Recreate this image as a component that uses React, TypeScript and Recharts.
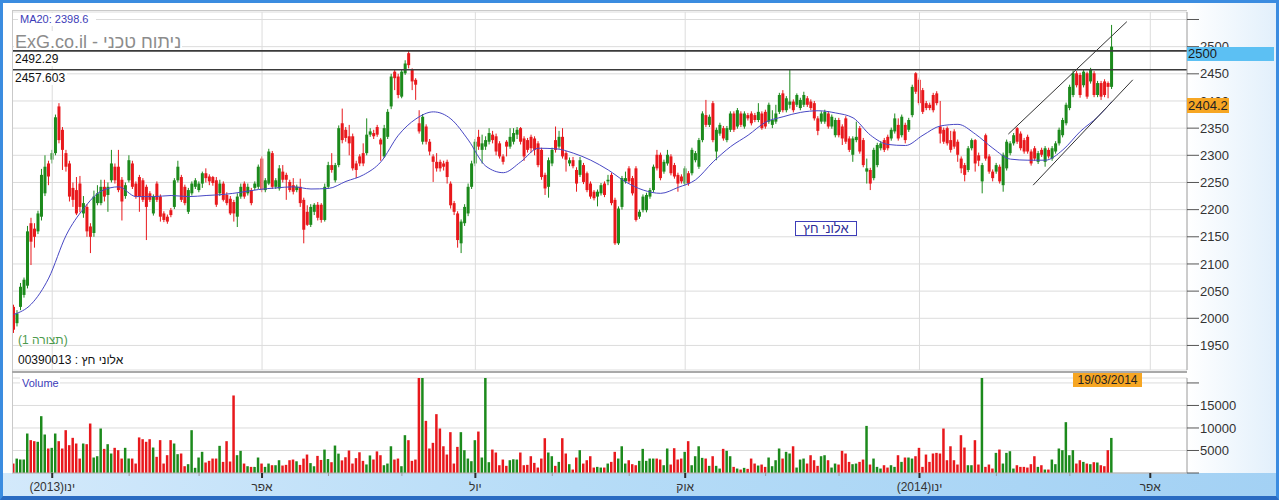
import React from 'react';
import { ComposedChart, Bar, Line, XAxis, YAxis, CartesianGrid, ReferenceLine, Cell } from 'recharts';

// ---------- data ----------
const opens = [
  2021,1991,2021,2043,2060,2175,2165,2160,2187,2230,
  2285,2292,2304,2390,2347,2304,2285,2240,2236,2248,
  2193,2205,2169,2157,2212,2212,2242,2227,2254,2279,
  2279,2255,2225,2254,2285,2248,2260,2254,2242,2230,
  2193,2248,2224,2193,2187,2199,2205,2254,2260,2242,
  2196,2230,2242,2236,2248,2267,2261,2260,2254,2230,
  2248,2227,2220,2214,2187,2224,2248,2230,2236,2240,
  2242,2294,2236,2248,2304,2242,2239,2270,2264,2251,
  2245,2236,2242,2218,2196,2172,2196,2209,2209,2181,
  2242,2282,2254,2282,2359,2347,2335,2335,2285,2298,
  2304,2304,2338,2341,2352,2329,2298,2334,2390,2454,
  2445,2408,2451,2488,2457,2439,2359,2325,2353,2325,
  2298,2288,2288,2285,2288,2248,2212,2193,2138,2175,
  2193,2242,2285,2334,2310,2316,2325,2338,2335,2322,
  2298,2325,2316,2325,2338,2350,2331,2328,2334,2331,
  2322,2310,2264,2242,2285,2328,2316,2334,2304,2285,
  2291,2273,2264,2282,2267,2248,2233,2224,2230,2248,
  2252,2264,2218,2138,2205,2252,2276,2258,2276,2187,
  2199,2199,2224,2236,2301,2301,2270,2285,2298,2282,
  2264,2261,2248,2267,2267,2291,2279,2328,2374,2356,
  2396,2307,2340,2350,2328,2347,2377,2353,2377,2353,
  2374,2377,2374,2365,2377,2380,2362,2356,2362,2380,
  2414,2383,2393,2399,2393,2387,2393,2405,2399,2396,
  2368,2362,2362,2377,2353,2337,2365,2353,2368,2331,
  2301,2328,2350,2328,2270,2273,2258,2282,2313,2328,
  2334,2331,2344,2356,2337,2356,2347,2374,2451,2439,
  2420,2396,2393,2411,2414,2353,2347,2350,2328,2344,
  2325,2294,2282,2273,2313,2328,2300,2252,2337,2298,
  2270,2270,2279,2245,2276,2304,2322,2350,2340,2328,
  2334,2307,2313,2288,2310,2288,2310,2294,2307,2322,
  2337,2359,2387,2411,2451,2448,2429,2451,2436,2451,
  2411,2433,2436,2433,2426,
];
const highs = [
  2025,2015,2065,2075,2170,2185,2175,2198,2275,2300,
  2290,2310,2375,2396,2352,2310,2290,2250,2260,2262,
  2225,2210,2175,2235,2245,2255,2255,2250,2310,2285,
  2310,2260,2250,2300,2290,2252,2264,2258,2246,2234,
  2228,2252,2228,2197,2191,2203,2258,2290,2264,2246,
  2240,2252,2258,2252,2270,2276,2265,2262,2260,2255,
  2252,2232,2225,2218,2230,2248,2252,2248,2240,2252,
  2283,2298,2258,2312,2308,2258,2282,2282,2268,2255,
  2258,2246,2257,2222,2208,2210,2212,2214,2212,2248,
  2288,2304,2286,2355,2386,2352,2356,2340,2290,2302,
  2322,2368,2350,2347,2356,2332,2356,2385,2450,2458,
  2450,2458,2475,2492.3,2460,2442,2383,2376,2357,2330,
  2302,2304,2292,2290,2292,2252,2216,2197,2182,2210,
  2248,2290,2330,2347,2338,2335,2350,2345,2340,2326,
  2302,2328,2350,2350,2352,2352,2335,2332,2338,2335,
  2326,2314,2268,2296,2314,2353,2345,2350,2308,2296,
  2297,2278,2297,2286,2270,2252,2236,2237,2249,2252,
  2264,2268,2222,2206,2262,2270,2280,2262,2280,2200,
  2228,2231,2240,2283,2310,2305,2292,2310,2302,2286,
  2268,2265,2280,2271,2314,2308,2332,2381,2402,2375,
  2400,2351,2360,2354,2354,2381,2381,2387,2381,2381,
  2378,2381,2378,2396,2381,2384,2397,2383,2393,2415,
  2420,2409,2457.6,2403,2414,2406,2417,2409,2403,2400,
  2372,2381,2384,2381,2375,2369,2369,2357,2372,2335,
  2335,2362,2354,2332,2294,2277,2314,2323,2326,2332,
  2338,2351,2377,2368,2375,2360,2369,2430,2453,2443,
  2424,2400,2397,2415,2418,2400,2351,2353,2345,2348,
  2329,2298,2286,2317,2331,2330,2305,2286,2340,2302,
  2274,2286,2283,2305,2329,2326,2341,2352,2344,2332,
  2338,2311,2317,2308,2314,2317,2314,2317,2326,2351,
  2369,2397,2430,2456,2455,2452,2458,2454,2461,2455,
  2437,2437,2440,2436,2540,
];
const lows = [
  1973,1985,2015,2038,2055,2098,2130,2155,2180,2225,
  2245,2285,2300,2322,2273,2270,2215,2205,2190,2195,
  2185,2150,2120,2150,2208,2208,2215,2196,2250,2248,
  2232,2180,2220,2250,2238,2220,2196,2214,2144,2214,
  2189,2214,2178,2177,2174,2186,2201,2250,2214,2208,
  2192,2226,2238,2232,2240,2250,2245,2244,2205,2225,
  2215,2208,2190,2178,2168,2220,2220,2226,2208,2236,
  2238,2232,2232,2245,2238,2238,2235,2250,2218,2232,
  2228,2232,2205,2138,2170,2168,2190,2180,2176,2178,
  2238,2268,2250,2278,2322,2325,2300,2272,2258,2280,
  2280,2300,2334,2330,2334,2290,2295,2330,2385,2420,
  2405,2405,2448,2460,2420,2402,2340,2320,2320,2300,
  2251,2270,2270,2272,2248,2202,2190,2130,2120,2170,
  2188,2238,2280,2310,2285,2310,2320,2322,2300,2294,
  2283,2298,2312,2320,2330,2320,2290,2305,2305,2300,
  2278,2255,2227,2222,2280,2305,2312,2294,2270,2280,
  2276,2233,2260,2247,2232,2220,2217,2206,2226,2223,
  2245,2208,2135,2135,2200,2248,2248,2226,2178,2183,
  2195,2195,2220,2232,2272,2254,2266,2281,2263,2257,
  2233,2248,2244,2244,2263,2287,2275,2324,2352,2352,
  2324,2291,2336,2327,2324,2343,2343,2349,2352,2349,
  2364,2355,2361,2361,2347,2349,2358,2350,2358,2376,
  2379,2379,2386,2379,2389,2383,2389,2389,2383,2364,
  2337,2358,2358,2349,2349,2333,2333,2319,2321,2306,
  2288,2324,2303,2278,2248,2236,2254,2278,2309,2306,
  2309,2327,2340,2327,2333,2322,2343,2370,2413,2392,
  2376,2383,2383,2379,2392,2322,2321,2318,2305,2312,
  2288,2267,2252,2269,2309,2270,2280,2230,2290,2266,
  2252,2266,2248,2233,2272,2300,2318,2321,2309,2303,
  2303,2281,2290,2284,2297,2279,2294,2290,2303,2318,
  2333,2355,2383,2407,2425,2406,2425,2404,2432,2407,
  2407,2402,2407,2405,2422,
];
const closes = [
  1979,2009,2058,2071,2160,2141,2150,2193,2264,2279,
  2261,2304,2370,2328,2310,2279,2224,2218,2193,2205,
  2212,2160,2150,2224,2230,2242,2224,2242,2285,2254,
  2236,2215,2245,2291,2242,2224,2224,2218,2205,2218,
  2224,2218,2187,2181,2178,2190,2254,2279,2218,2212,
  2236,2248,2254,2248,2267,2258,2252,2249,2209,2248,
  2218,2212,2193,2193,2224,2242,2224,2242,2212,2248,
  2279,2236,2254,2307,2242,2254,2276,2255,2255,2236,
  2233,2242,2212,2163,2172,2205,2209,2185,2181,2242,
  2282,2273,2282,2350,2328,2332,2322,2276,2273,2285,
  2285,2338,2344,2335,2338,2320,2350,2380,2445,2442,
  2411,2454,2469,2466,2436,2430,2344,2371,2325,2307,
  2288,2276,2276,2279,2260,2208,2196,2144,2178,2205,
  2242,2285,2325,2316,2322,2328,2341,2328,2307,2298,
  2288,2316,2334,2341,2347,2325,2298,2310,2313,2310,
  2282,2260,2239,2291,2310,2310,2334,2298,2292,2291,
  2280,2248,2291,2251,2236,2224,2221,2233,2245,2227,
  2255,2212,2138,2202,2258,2258,2252,2230,2181,2196,
  2224,2227,2236,2279,2276,2258,2288,2301,2267,2261,
  2248,2252,2276,2248,2310,2304,2328,2377,2356,2371,
  2328,2347,2356,2331,2350,2377,2347,2383,2356,2377,
  2368,2359,2365,2380,2350,2353,2393,2365,2377,2411,
  2383,2405,2399,2383,2411,2402,2411,2393,2387,2368,
  2345,2377,2380,2353,2371,2365,2337,2331,2325,2310,
  2331,2334,2307,2282,2276,2248,2310,2319,2322,2310,
  2313,2347,2368,2331,2371,2328,2365,2426,2417,2396,
  2380,2387,2387,2383,2396,2340,2325,2322,2310,2316,
  2301,2276,2264,2313,2328,2285,2290,2282,2294,2270,
  2258,2282,2252,2301,2325,2322,2337,2325,2313,2307,
  2307,2285,2294,2304,2301,2313,2298,2313,2322,2347,
  2365,2393,2426,2451,2429,2411,2454,2408,2457,2411,
  2433,2408,2411,2426,2500,
];
const volumes = [
  2100,3200,3000,3000,8770,7300,7070,6930,12620,8550,
  5440,5590,8770,7070,5440,9510,6180,7810,6550,3210,
  6550,6400,10990,3440,3730,9880,5360,6400,4330,5590,
  5070,3210,5590,3210,3210,2100,7900,7510,6930,7510,
  5660,3590,7300,2100,3960,7300,6550,4180,4330,1510,
  1960,9510,1150,3440,4700,2330,2700,3210,3210,6030,
  2470,7070,2550,17220,3960,4920,2100,1510,1360,1360,
  3440,2100,1360,2100,1730,1730,2840,1660,1810,2840,
  2990,2600,1800,3200,4100,2200,1500,3800,2900,5200,
  3100,2400,6100,4300,2800,3500,5000,2100,3300,4600,
  2700,1900,3900,3000,4800,3950,1730,2100,5940,2990,
  3210,1510,8400,7290,2700,2990,26000,25000,11580,5440,
  6700,13070,9880,5940,4100,9070,2100,5800,9070,5070,
  3210,2620,7290,9210,3440,25000,2400,5210,4550,1730,
  2990,1590,2840,3050,2990,4550,1730,1810,3730,2250,
  1210,3210,7730,4550,3730,1590,2470,7730,4330,1960,
  770,3440,5070,2100,2840,3730,1210,1360,1210,1210,
  2100,2470,4700,3210,5940,2100,2840,1960,1730,2700,
  5360,2700,3210,3210,3210,2990,1730,5440,1880,5510,
  2990,3210,4700,7070,1730,3730,5940,3360,3210,1590,
  3730,1590,990,5360,4920,3730,1360,990,770,1140,
  920,3210,2100,1660,1880,1360,3440,1510,2840,5440,
  3210,4700,4330,5940,1210,2990,3210,2100,3950,2840,
  1590,3730,3950,2840,1210,2100,1880,4920,4330,2470,
  1960,2100,2470,2990,10460,1880,3210,1360,990,1730,
  1210,1730,1360,3950,2470,3440,3440,3210,3730,5590,
  1360,4100,2470,4330,4470,4330,9880,2840,5940,2840,
  1880,8400,5660,1730,1730,7290,1880,24000,1360,1880,
  990,4470,5210,2100,4470,4840,990,1730,1360,1360,
  1210,1960,3730,1360,1730,770,770,2990,1960,5440,
  5070,11290,3950,5070,2100,2840,2470,2100,1960,2400,
  2330,1730,1510,5070,7790,
];
// MA20 at every fifth session
const maIndex = [0,5,10,15,20,25,30,35,40,45,50,55,60,65,70,75,80,85,90,95,100,105,110,115,120,125,130,135,140,145,150,155,160,165,170,175,180,185,190,195,200,205,210,215,220,225,230,235,240,245,250,255,260,265,270,275,280,285,290,295,300,305,310,314];
const maValues = [2007,2026,2074,2153,2202,2234,2242,2224,2224,2226,2224,2226,2228,2232,2237,2240,2242,2238,2239,2252,2264,2288,2337,2367,2380,2367,2328,2280,2268,2288,2313,2312,2304,2291,2273,2251,2236,2230,2241,2255,2288,2316,2337,2361,2371,2379,2382,2378,2369,2337,2320,2318,2337,2354,2357,2339,2313,2293,2291,2291,2310,2344,2371,2398.6];

const monthTicks = [11,33,53,71,90,111,132,154,176,192,215,236,259,281,302,325];
const monthLabels = ['(2013)ינו','','','אפר','','','יול','','','אוק','','','(2014)ינו','','','אפר'];
const quarterTicks = [11,71,132,192,259,325];
const priceTicks = [1950,2000,2050,2100,2150,2200,2250,2300,2350,2400,2450,2500,2550];
const volumeTicks = [0,5000,10000,15000,20000];
const levelHigh = 2492.29;
const levelLow = 2457.603;
const channelUpper = [{ x: 284.4, y: 2339 }, { x: 318.3, y: 2546 }];
const channelLower = [{ x: 291.5, y: 2245 }, { x: 320, y: 2439 }];
const lastPrice = '2500';
const maMarker = '2404.2';
const maLabel = 'MA20: 2398.6';
const lastDate = '19/03/2014';

const X_DOMAIN: [number, number] = [-0.5, 335.5];
const PRICE_DOMAIN: [number, number] = [1904.8, 2563.8];
const VOLUME_DOMAIN: [number, number] = [0, 21100];

const GREEN = '#1c8a1c';
const RED = '#e8181c';
const GRID = '#dcdcdc';
const FONT = "'Liberation Sans', Arial, sans-serif";
const NARROW = "'Liberation Sans Narrow', 'Arial Narrow', 'Liberation Sans', Arial, sans-serif";

const maMap: Record<number, number> = {};
maIndex.forEach((idx, k) => { maMap[idx] = maValues[k]; });

const data = closes.map((c, i) => ({
  i,
  open: opens[i],
  high: highs[i],
  low: lows[i],
  close: c,
  range: [lows[i], highs[i]],
  volume: volumes[i],
  ma: maMap[i] !== undefined ? maMap[i] : null,
}));

const Candle = (props: any) => {
  const { x, y, width, height, payload } = props;
  if (!payload || x == null || y == null) return null;
  const { open, close, high, low } = payload;
  const up = close >= open;
  const color = up ? GREEN : RED;
  const top = Math.min(y, y + height);
  const h = Math.abs(height);
  const span = high - low || 1;
  const yOf = (v: number) => top + ((high - v) / span) * h;
  const cx = x + width / 2;
  const bTop = yOf(Math.max(open, close));
  const bBot = yOf(Math.min(open, close));
  return (
    <g>
      <line x1={cx} x2={cx} y1={top} y2={top + h} stroke={color} strokeWidth={1} />
      <rect x={x} y={bTop} width={width} height={Math.max(bBot - bTop, 1)} fill={color} />
    </g>
  );
};

const MonthTick = (props: any) => {
  const { x, y, payload } = props;
  const k = monthTicks.indexOf(payload.value);
  const label = k >= 0 ? monthLabels[k] : '';
  const major = label !== '';
  return (
    <g>
      <line x1={x} x2={x} y1={y} y2={y + (major ? 5 : 3)} stroke={major ? '#2c2c2c' : '#9a9a9a'} strokeWidth={major ? 2 : 1} />
      {major && (
        <text x={x} y={y + 18} textAnchor="middle" fontSize={12} fill="#333" fontFamily={FONT}>
          {label}
        </text>
      )}
    </g>
  );
};

const abs = (l: number, t: number, w: number, h: number, extra: React.CSSProperties = {}): React.CSSProperties => ({
  position: 'absolute', left: l, top: t, width: w, height: h, ...extra,
});

export default function App() {
  return (
    <div style={{ position: 'absolute', left: 0, top: 0, width: 1279, height: 500, background: '#fff', overflow: 'hidden', fontFamily: FONT }}>
      {/* backgrounds */}
      <div style={abs(1187, 0, 92, 473, { background: 'linear-gradient(to right, #ffffff, #e1effb)' })} />
      <div style={abs(0, 473, 1279, 27, { background: 'linear-gradient(to right, #d3e9fb, #b6dcf7 45%, #a3d1f4)' })} />

      {/* price panel */}
      <div style={{ position: 'absolute', left: 0, top: 0 }}>
        <ComposedChart width={1279} height={372} data={data} margin={{ top: 12, right: 0, bottom: 2, left: 12 }}>
          <CartesianGrid vertical={false} stroke={GRID} />
          <XAxis type="number" dataKey="i" domain={X_DOMAIN} hide allowDataOverflow />
          <YAxis
            type="number"
            orientation="right"
            width={92}
            domain={PRICE_DOMAIN}
            ticks={priceTicks}
            interval={0}
            allowDataOverflow
            tickSize={12}
            tickMargin={1}
            axisLine={{ stroke: '#9a9a9a' }}
            tickLine={{ stroke: '#555' }}
            tick={{ fontSize: 13, fill: '#333', fontFamily: NARROW }}
            tickFormatter={(v: number) => (v === 2550 ? '' : String(v))}
          />
          {quarterTicks.map((q) => (
            <ReferenceLine key={q} x={q} stroke={GRID} />
          ))}
          <ReferenceLine y={levelHigh} stroke="#3a3a3a" strokeWidth={1.6} />
          <ReferenceLine y={levelLow} stroke="#3a3a3a" strokeWidth={1.6} />
          <Bar dataKey="range" barSize={3} shape={(p: any) => <Candle {...p} />} isAnimationActive={false} />
          <Line dataKey="ma" type="monotone" stroke="#4848c4" strokeWidth={1} dot={false} connectNulls isAnimationActive={false} />
          <ReferenceLine segment={channelUpper} stroke="#333" strokeWidth={1} />
          <ReferenceLine segment={channelLower} stroke="#333" strokeWidth={1} />
        </ComposedChart>
      </div>

      {/* volume panel */}
      <div style={{ position: 'absolute', left: 0, top: 372 }}>
        <ComposedChart width={1279} height={128} data={data} margin={{ top: 6, right: 0, bottom: 5, left: 12 }}>
          <CartesianGrid vertical={false} stroke={GRID} />
          <XAxis
            type="number"
            dataKey="i"
            domain={X_DOMAIN}
            allowDataOverflow
            ticks={monthTicks}
            interval={0}
            height={22}
            tickSize={0}
            tickMargin={0}
            tickLine={false}
            axisLine={{ stroke: '#b0b0b0' }}
            tick={(p: any) => <MonthTick {...p} />}
          />
          <YAxis
            type="number"
            orientation="right"
            width={92}
            domain={VOLUME_DOMAIN}
            ticks={volumeTicks}
            interval={0}
            allowDataOverflow
            tickSize={12}
            tickMargin={1}
            axisLine={{ stroke: '#9a9a9a' }}
            tickLine={{ stroke: '#555' }}
            tick={{ fontSize: 13, fill: '#333', fontFamily: NARROW }}
            tickFormatter={(v: number) => (v === 0 || v === 20000 ? '' : String(v))}
          />
          <Bar dataKey="volume" barSize={2.5} isAnimationActive={false}>
            {data.map((d) => (
              <Cell key={d.i} fill={d.close >= d.open ? GREEN : RED} />
            ))}
          </Bar>
        </ComposedChart>
      </div>

      {/* panel borders */}
      <div style={abs(12, 10, 1175, 1, { background: '#c9c9c9' })} />
      <div style={abs(12, 10, 1, 463, { background: '#c9c9c9' })} />
      <div style={abs(12, 371, 1175, 2, { background: '#a9a9a9' })} />

      {/* labels in the price panel */}
      <div style={abs(18, 13, 78, 13, { background: '#fff', fontSize: 11, lineHeight: '13px', color: '#3c3cb8', paddingLeft: 2, boxSizing: 'border-box' })}>{maLabel}</div>
      <div style={abs(14, 31, 168, 18, { background: '#fff' })} />
      <div style={abs(15, 33, 200, 18, { fontSize: 18, lineHeight: '18px', color: '#8c8c8c', whiteSpace: 'nowrap' })}>ExG.co.il - ניתוח טכני</div>
      <div style={abs(13, 52, 50, 14, { background: '#fff', fontSize: 12, lineHeight: '14px', color: '#111', paddingLeft: 2, boxSizing: 'border-box' })}>2492.29</div>
      <div style={abs(13, 71, 54, 14, { background: '#fff', fontSize: 12, lineHeight: '14px', color: '#111', paddingLeft: 2, boxSizing: 'border-box' })}>2457.603</div>
      <div style={abs(18, 333, 120, 14, { fontSize: 12, lineHeight: '14px', color: '#4c9a4c', whiteSpace: 'nowrap' })}>(תצורה 1)</div>
      <div style={abs(18, 353, 160, 14, { fontSize: 12, lineHeight: '14px', color: '#111', whiteSpace: 'nowrap' })}>00390013 : אלוני חץ</div>
      <div style={abs(795, 221, 62, 15, { background: '#fff', border: '1px solid #3d3db8', boxSizing: 'border-box', fontSize: 13, lineHeight: '13px', color: '#2c2c96', textAlign: 'center' })}>אלוני חץ</div>

      {/* volume label */}
      <div style={abs(20, 377, 40, 13, { background: '#fff', fontSize: 11, lineHeight: '13px', color: '#3c3cb8', paddingLeft: 2, boxSizing: 'border-box' })}>Volume</div>

      {/* right side markers */}
      <div style={abs(1187, 47, 87, 14, { background: '#5cc0f3', fontSize: 13, lineHeight: '14px', color: '#1a1a1a', paddingLeft: 1, boxSizing: 'border-box' })}>{lastPrice}</div>
      <div style={abs(1187, 98, 42, 15, { background: '#f6a623', fontSize: 13, lineHeight: '15px', color: '#222', paddingLeft: 1, boxSizing: 'border-box' })}>{maMarker}</div>
      <div style={abs(1073, 373, 69, 14, { background: '#f6a623', fontSize: 12, lineHeight: '14px', color: '#222', textAlign: 'center' })}>{lastDate}</div>

      {/* frame */}
      <div style={abs(0, 0, 1279, 500, { border: '3px solid #3b8ce0', borderBottom: '4px solid #2a6bc2', boxSizing: 'border-box', pointerEvents: 'none' })} />
    </div>
  );
}
